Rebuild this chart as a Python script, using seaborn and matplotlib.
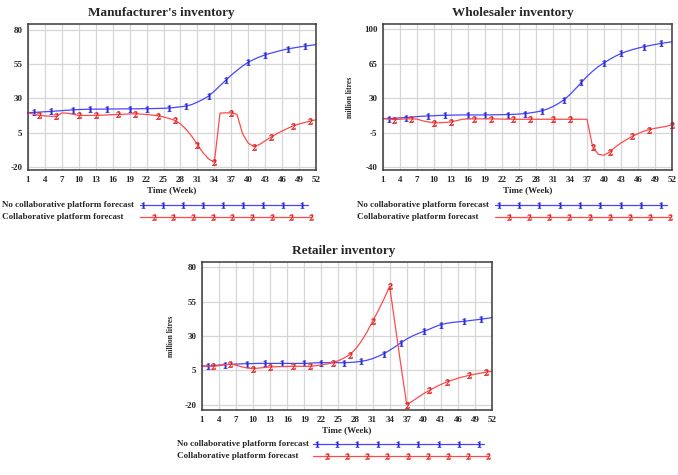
import numpy as np
import pandas as pd
import seaborn as sns
import matplotlib.pyplot as plt

# ==============================================================================
# 1. DATA
# ==============================================================================
weeks = list(range(1, 53))
week_ticks = list(range(1, 53, 3))
series_names = ["No collaborative platform forecast", "Collaborative platform forecast"]

# Manufacturer's inventory
manu_no_collab = [19.6, 19.8, 20.0, 20.3, 20.5, 20.8, 21.1, 21.4, 21.7, 21.9,
                  22.0, 22.2, 22.2, 22.2, 22.3, 22.3, 22.3, 22.4, 22.4, 22.4,
                  22.5, 22.5, 22.6, 22.7, 22.8, 23.0, 23.4, 23.9, 24.4, 25.5,
                  27.3, 29.3, 31.7, 35.3, 39.2, 43.1, 46.9, 50.3, 53.5, 56.2,
                  58.3, 60.1, 61.6, 62.8, 63.9, 65.0, 65.9, 66.6, 67.3, 67.9,
                  68.5, 69.0]
manu_collab = [19.6, 18.5, 17.6, 17.3, 17.0, 16.9, 19.4, 19.2, 18.5, 17.6,
               17.6, 17.6, 17.6, 17.8, 18.0, 18.2, 18.3, 18.5, 18.7, 18.8,
               18.6, 18.3, 17.9, 17.4, 16.5, 15.4, 14.0, 11.5, 7.5, 2.5,
               -3.5, -9.5, -14.0, -16.4, 19.3, 19.5, 19.5, 18.5, 4.3, -2.5,
               -5.0, -3.5, -0.8, 1.8, 4.2, 6.3, 8.3, 10.1, 11.4, 12.5,
               13.5, 14.5]
manu_marks_1 = [2, 5, 9, 12, 15, 19, 22, 26, 29, 33, 36, 40, 43, 47, 50]
manu_marks_2 = [3, 6, 10, 13, 17, 20, 24, 27, 31, 34, 37, 41, 44, 48, 51]
manu_yticks = [-20, 5, 30, 55, 80]

# Wholesaler inventory
whole_no_collab = [9.3, 9.3, 9.6, 10.0, 10.3, 10.8, 11.3, 11.7, 12.0, 12.2,
                   12.5, 12.7, 12.8, 12.9, 13.0, 13.0, 13.0, 13.0, 13.0, 13.1,
                   13.2, 13.3, 13.4, 13.6, 13.9, 14.4, 15.1, 16.0, 17.1, 19.0,
                   21.6, 24.8, 28.6, 33.8, 39.8, 46.0, 52.2, 57.5, 62.2, 66.0,
                   69.5, 72.7, 75.5, 77.6, 79.4, 81.0, 82.3, 83.5, 84.6, 85.7,
                   86.6, 87.4]
whole_collab = [9.3, 8.8, 8.3, 8.6, 9.0, 9.0, 8.8, 7.0, 5.9, 4.9,
                5.0, 5.4, 5.9, 7.2, 8.6, 8.9, 9.0, 9.0, 9.0, 9.0,
                8.9, 8.8, 8.7, 8.6, 8.6, 8.6, 8.6, 8.6, 8.6, 8.6,
                8.6, 8.6, 8.6, 8.6, 8.6, 8.6, 8.6, -19.6, -27.0, -28.0,
                -24.7, -19.6, -15.5, -12.0, -8.7, -6.0, -3.6, -1.9, -0.6, 0.4,
                1.5, 2.8]
whole_marks_1 = [2, 5, 9, 12, 16, 19, 23, 26, 29, 33, 36, 40, 43, 47, 50]
whole_marks_2 = [3, 6, 10, 13, 17, 20, 24, 27, 31, 34, 38, 41, 45, 48, 52]
whole_yticks = [-40, -5, 30, 65, 100]

# Retailer inventory
retail_no_collab = [8.1, 8.1, 8.4, 8.8, 9.1, 9.3, 9.5, 9.7, 9.8, 9.9,
                    10.0, 10.0, 10.0, 10.0, 10.0, 10.0, 10.0, 10.0, 10.0, 10.2,
                    10.4, 10.5, 10.5, 10.5, 10.5, 10.5, 10.7, 11.0, 11.5, 12.3,
                    13.5, 15.2, 17.1, 19.6, 22.3, 25.1, 27.8, 30.0, 31.8, 33.4,
                    35.0, 36.8, 38.3, 39.2, 39.9, 40.3, 40.7, 41.2, 41.7, 42.2,
                    42.8, 43.4]
retail_collab = [8.1, 8.0, 7.9, 8.3, 9.0, 9.6, 8.7, 7.5, 6.6, 6.2,
                 6.6, 7.0, 7.4, 7.6, 7.7, 7.8, 7.9, 7.9, 7.9, 7.9,
                 8.3, 8.9, 9.6, 10.5, 12.0, 14.0, 16.4, 20.5, 26.0, 32.8,
                 40.7, 48.5, 57.0, 66.3, 37.0, 8.0, -20.1, -17.5, -14.8, -12.0,
                 -9.7, -7.4, -5.4, -3.6, -2.2, -0.8, 0.3, 1.3, 2.1, 2.9,
                 3.7, 4.2]
retail_marks_1 = [2, 5, 9, 12, 15, 19, 22, 26, 29, 33, 36, 40, 43, 47, 50]
retail_marks_2 = [3, 6, 10, 13, 17, 20, 24, 27, 31, 34, 37, 41, 44, 48, 51]
retail_yticks = [-20, 5, 30, 55, 80]

# ==============================================================================
# 2. STYLE
# ==============================================================================
sns.set_theme(style="whitegrid")
plt.rcParams['font.family'] = ['Liberation Serif', 'DejaVu Serif']
plt.rcParams['font.weight'] = 'bold'
plt.rcParams['mathtext.fontset'] = 'stix'
plt.rcParams['axes.unicode_minus'] = False

blue = "#4646ff"
red = "#ff4a4a"
mark_blue = "#2a2ad8"
mark_red = "#e02828"
W, H = 678, 475


def px_rect(left, right, top, bottom):
    return [left / W, 1 - bottom / H, (right - left) / W, (bottom - top) / H]


def draw_panel(ax, no_collab, collab, marks_1, marks_2, yticks, ylim, title, title_x, ylabel):
    df = pd.DataFrame({"week": weeks, "no": no_collab, "co": collab})
    sns.lineplot(data=df, x="week", y="no", ax=ax, color=blue, lw=0.9,
                 marker="$1$", markersize=4.8, markevery=[w - 1 for w in marks_1],
                 markeredgewidth=0.25, markerfacecolor=mark_blue, markeredgecolor=mark_blue,
                 clip_on=False)
    sns.lineplot(data=df, x="week", y="co", ax=ax, color=red, lw=0.9,
                 marker="$2$", markersize=4.8, markevery=[w - 1 for w in marks_2],
                 markeredgewidth=0.25, markerfacecolor=mark_red, markeredgecolor=mark_red,
                 clip_on=False)
    ax.set_xlim(1, 52)
    ax.set_ylim(*ylim)
    ax.set_xticks(week_ticks)
    ax.set_yticks(yticks)
    ax.tick_params(length=0, labelsize=6.5, pad=4)
    for lab in ax.get_xticklabels() + ax.get_yticklabels():
        lab.set_fontweight('bold')
    ax.grid(True, color="#d6d6d6", lw=0.9)
    for sp in ax.spines.values():
        sp.set_color("#3a3a3a")
        sp.set_linewidth(1.1)
    ax.set_xlabel("Time (Week)", fontsize=6.5, fontweight='bold', labelpad=2)
    ax.set_ylabel(ylabel, fontsize=5.5, fontweight='bold', labelpad=7)
    ax.set_title(title, fontsize=9.5, fontweight='bold', x=title_x, pad=6)


def draw_legend(fig, text_x, row_y, line_x0, line_x1):
    # labels on the left, sample lines with number markers on the right
    for name, y in zip(series_names, row_y):
        fig.text(text_x / W, 1 - y / H, name, fontsize=6.5, fontweight='bold',
                 ha='left', va='center')
    lax = fig.add_axes(px_rect(line_x0, line_x1, row_y[0] - 6, row_y[1] + 6))
    lax.set_xlim(0, 1)
    lax.set_ylim(row_y[1] + 6, row_y[0] - 6)
    lax.axis('off')
    lax.plot([0.0, 0.98], [row_y[0]] * 2, color=blue, lw=0.9, clip_on=False)
    lax.plot(np.linspace(0.02, 0.95, 9), [row_y[0]] * 9, ls='none', marker="$1$",
             markersize=4.5, color=mark_blue, markeredgewidth=0.25, clip_on=False)
    lax.plot([0.0, 1.0], [row_y[1]] * 2, color=red, lw=0.9, clip_on=False)
    lax.plot(np.linspace(0.08, 1.0, 9), [row_y[1]] * 9, ls='none', marker="$2$",
             markersize=4.5, color=mark_red, markeredgewidth=0.25, clip_on=False)


# ==============================================================================
# 3. FIGURE
# ==============================================================================
fig = plt.figure(figsize=(W / 100, H / 100), dpi=100)
ax1 = fig.add_axes(px_rect(28, 316, 24, 170))
ax2 = fig.add_axes(px_rect(383, 672, 24, 170))
ax3 = fig.add_axes(px_rect(202, 492, 262, 410))

draw_panel(ax1, manu_no_collab, manu_collab, manu_marks_1, manu_marks_2,
           manu_yticks, (-22, 84), "Manufacturer's inventory", 0.462, "")
draw_panel(ax2, whole_no_collab, whole_collab, whole_marks_1, whole_marks_2,
           whole_yticks, (-43, 105.5), "Wholesaler inventory", 0.45, "million litres")
draw_panel(ax3, retail_no_collab, retail_collab, retail_marks_1, retail_marks_2,
           retail_yticks, (-24, 84), "Retailer inventory", 0.49, "million litres")

draw_legend(fig, 2, (205, 217), 140, 311)
draw_legend(fig, 357, (205, 217), 495, 670)
draw_legend(fig, 177, (444, 456), 313, 488)

fig.savefig("out.png", dpi=100, facecolor="white")
plt.close(fig)
